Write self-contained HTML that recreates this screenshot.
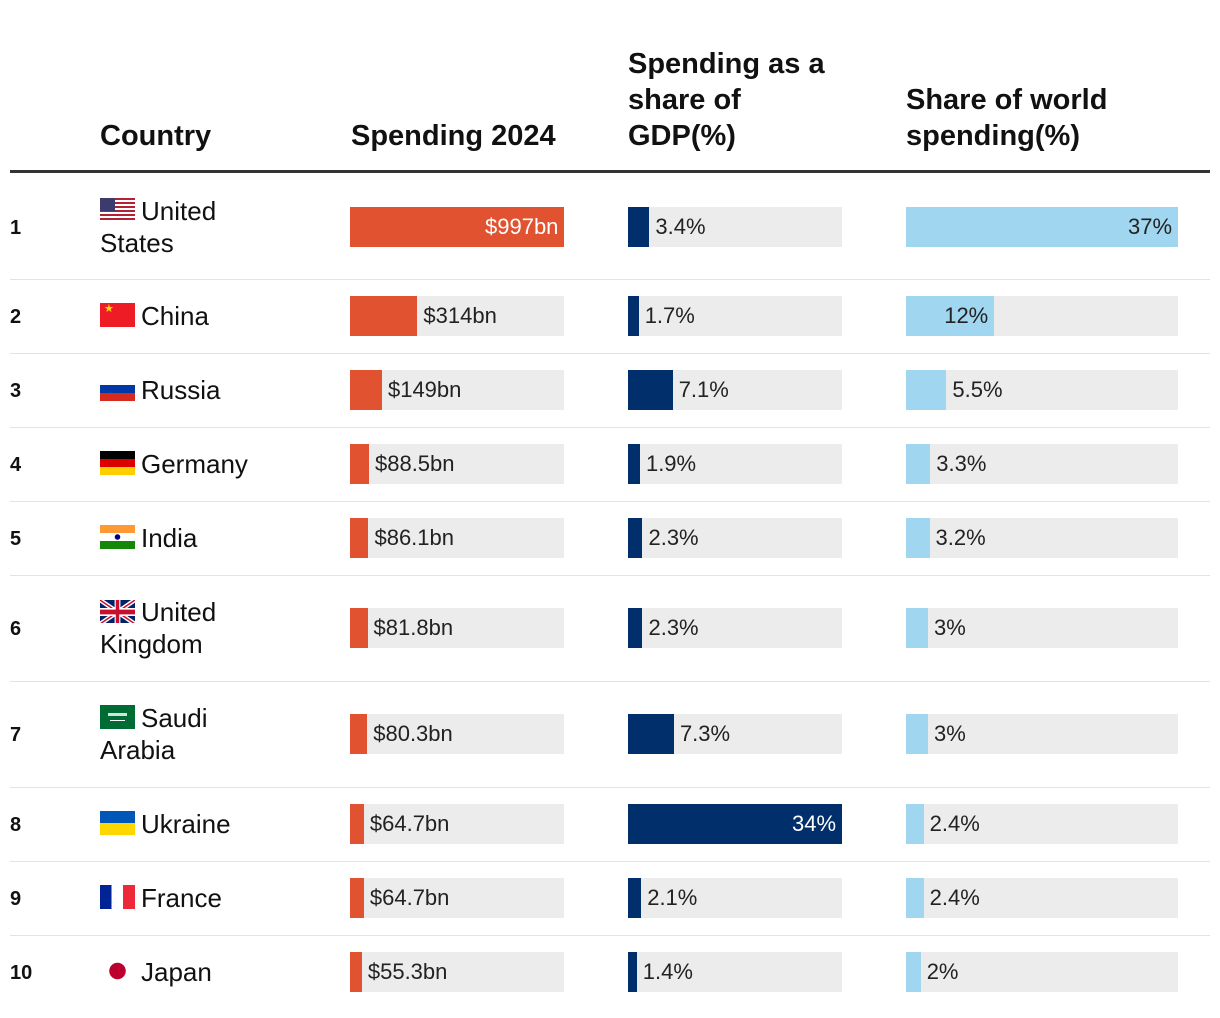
<!DOCTYPE html>
<html><head><meta charset="utf-8">
<style>
body{margin:0;width:1220px;height:1018px;background:#fff;font-family:"Liberation Sans",sans-serif;color:#111;position:relative;overflow:hidden}
.abs{position:absolute}
.h{font-weight:bold;font-size:29px;line-height:36px;bottom:0}
.rank{font-weight:bold;font-size:20px;left:10px}
.country{left:100px;width:150px;font-size:26px;line-height:32px}
.flag{display:inline-block;width:35px;height:24px;vertical-align:-2px;margin-right:6px;position:relative;overflow:hidden}
.bg{background:#ececec;height:40px}
.val{font-size:22px;line-height:40px;white-space:nowrap}
.sep{left:10px;width:1200px;height:1px;background:#e3e3e3}
</style></head><body>
<div class="abs" style="left:0;top:0;width:1220px;height:160px">
<div class="abs h" style="left:100px;bottom:6px">Country</div>
<div class="abs h" style="left:351px;bottom:6px">Spending 2024</div>
<div class="abs h" style="left:628px;bottom:6px">Spending as a<br>share of<br>GDP(%)</div>
<div class="abs h" style="left:906px;bottom:6px">Share of world<br>spending(%)</div>
</div>
<div class="abs" style="left:10px;top:170px;width:1200px;height:3px;background:#333"></div>
<div id="rows"></div>
<script>
const countries=["United States","China","Russia","Germany","India","United Kingdom","Saudi Arabia","Ukraine","France","Japan"];
const spending=[997,314,149,88.5,86.1,81.8,80.3,64.7,64.7,55.3];
const spendingLabels=["$997bn","$314bn","$149bn","$88.5bn","$86.1bn","$81.8bn","$80.3bn","$64.7bn","$64.7bn","$55.3bn"];
const gdpShare=[3.4,1.7,7.1,1.9,2.3,2.3,7.3,34,2.1,1.4];
const gdpLabels=["3.4%","1.7%","7.1%","1.9%","2.3%","2.3%","7.3%","34%","2.1%","1.4%"];
const worldShare=[37,12,5.5,3.3,3.2,3,3,2.4,2.4,2];
const worldLabels=["37%","12%","5.5%","3.3%","3.2%","3%","3%","2.4%","2.4%","2%"];
const flags=[
"background:linear-gradient(#3c3b6e,#3c3b6e) 0 0/15px 13px no-repeat,repeating-linear-gradient(#b22234 0 2px,#fff 2px 4px)",
"background:#ee1c25",
"background:linear-gradient(#fff 0 33%,#0039a6 33% 66%,#d52b1e 66%)",
"background:linear-gradient(#000 0 33%,#dd0000 33% 66%,#ffce00 66%)",
"background:radial-gradient(circle at 50% 50%,#000080 0 2.5px,transparent 3px),linear-gradient(#ff9933 0 33%,#fff 33% 66%,#138808 66%)",
"UK",
"background:#006c35",
"background:linear-gradient(#0057b7 0 50%,#ffd700 50%)",
"background:linear-gradient(90deg,#002395 0 33%,#fff 33% 66%,#ed2939 66%)",
"background:radial-gradient(circle at 50% 50%,#bc002d 0 8px,#fff 8.5px)"];
const heights=[105,74,74,74,74,106,106,74,74,74];
function xs(v,max,w){return v/max*w;}
const root=document.getElementById('rows');
let yTop=174;
function barCol(parent,x,w,cy,v,max,lab,color,inColor,name){
  const bg=document.createElement('div');bg.className='abs bg';
  
  
  bg.style.cssText+=`left:${x}px;top:${cy-20}px;width:${w}px`;parent.appendChild(bg);
  const bw=xs(v,max,w);
  const b=document.createElement('div');b.className='abs';
  
  
  b.style.cssText=`left:${x}px;top:${cy-20}px;width:${bw}px;height:40px;background:${color}`;parent.appendChild(b);
  const t=document.createElement('div');t.className='abs val';t.textContent=lab;
  
  
  parent.appendChild(t);
  const tw=t.offsetWidth;
  if(bw>tw+12){t.style.left=(x+bw-tw-6)+'px';t.style.color=inColor;}
  else{t.style.left=(x+bw+6)+'px';t.style.color='#222';}
  t.style.top=(cy-20)+'px';
}
countries.forEach((c,i)=>{
  const h=heights[i],cy=yTop+h/2;
  const r=document.createElement('div');
  
  
  root.appendChild(r);
  const rk=document.createElement('div');rk.className='abs rank';rk.textContent=i+1;
  
  
  rk.style.top=(cy-10)+'px';r.appendChild(rk);
  const cn=document.createElement('div');cn.className='abs country';
  
  
  let fl;
  if(flags[i]==='UK'){fl='<span class="flag"><svg width="35" height="24" viewBox="0 0 60 30" preserveAspectRatio="none"><rect width="60" height="30" fill="#012169"/><path d="M0,0L60,30M60,0L0,30" stroke="#fff" stroke-width="6"/><path d="M0,0L60,30M60,0L0,30" stroke="#c8102e" stroke-width="2"/><path d="M30,0V30M0,15H60" stroke="#fff" stroke-width="10"/><path d="M30,0V30M0,15H60" stroke="#c8102e" stroke-width="6"/></svg></span>';}
  else if(i===1){fl='<span class="flag" style="'+flags[i]+'"><span style="position:absolute;left:4px;top:1px;color:#ffde00;font-size:11px;line-height:11px">★</span></span>';}
  else if(i===6){fl='<span class="flag" style="'+flags[i]+'"><span style="position:absolute;left:8px;top:8px;width:19px;height:3px;background:#cfe5d8"></span><span style="position:absolute;left:10px;top:15px;width:15px;height:1px;background:#fff"></span></span>';}
  else fl='<span class="flag" style="'+flags[i]+'"></span>';
  cn.innerHTML=fl+c;r.appendChild(cn);
  cn.style.top=(cy-cn.offsetHeight/2)+'px';
  barCol(r,350,214,cy,spending[i],Math.max(...spending),spendingLabels[i],'#e05230','#fff','spending');
  barCol(r,628,214,cy,gdpShare[i],Math.max(...gdpShare),gdpLabels[i],'#002f6c','#fff','gdp-share');
  barCol(r,906,272,cy,worldShare[i],Math.max(...worldShare),worldLabels[i],'#a0d6f0','#222','world-share');
  yTop+=h;
  if(i<countries.length-1){const s=document.createElement('div');s.className='abs sep';
  
  
  s.style.top=(yTop)+'px';r.appendChild(s);}
});
</script>
</body></html>
